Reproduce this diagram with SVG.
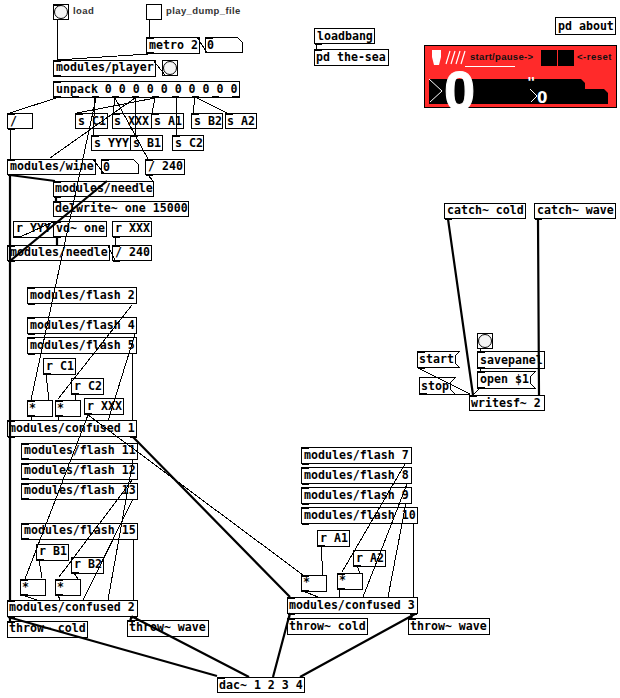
<svg xmlns="http://www.w3.org/2000/svg" width="620" height="698" viewBox="0 0 620 698">
<style>
.b{fill:#fff;stroke:#000;stroke-width:1;shape-rendering:crispEdges}
.io{fill:#000;shape-rendering:crispEdges}
.t{font-family:"DejaVu Sans Mono",monospace;font-weight:bold;font-size:11.6px;fill:#000}
.l{font-family:"Liberation Sans",sans-serif;font-weight:bold;font-size:9.5px;fill:#333;letter-spacing:.4px}
.w{fill:#fff}
.c{stroke:#000;stroke-width:1;fill:none;shape-rendering:crispEdges}
.s{stroke:#000;stroke-width:2.2;fill:none}
.wl{stroke:#fff;stroke-width:1;fill:none}
</style>
<defs>
<clipPath id="gopclip"><rect x="424" y="45" width="193" height="63"/></clipPath>
</defs>
<rect width="620" height="698" fill="#fff"/>
<g id="bang-load"><rect class="b" x="53.500" y="4.500" width="15" height="15"/><circle cx="61" cy="12" r="6.500" fill="#f4f4f4" stroke="#000"/><rect class="io" x="54" y="4" width="7" height="1.500"/><text class="l" x="73" y="14">load</text></g>
<g id="toggle-dump"><rect class="b" x="146.500" y="4.500" width="15" height="15"/><text class="l" x="166" y="14">play_dump_file</text></g>
<g id="metro"><rect class="b" x="146.500" y="37.500" width="53" height="16"/><rect class="io" x="147" y="37" width="7" height="2"/><rect class="io" x="147" y="52" width="7" height="2"/><text class="t" x="149" y="49">metro 2</text></g>
<g id="num-metro"><path class="b" d="M205.500 37.500H237.500L242.500 42.500V52.500H205.500Z"/><rect class="io" x="206" y="37" width="7" height="2"/><text class="t" x="207" y="49">0</text></g>
<g id="player"><rect class="b" x="53.500" y="60.500" width="102" height="16"/><rect class="io" x="54" y="60" width="7" height="2"/><rect class="io" x="54" y="75" width="7" height="2"/><text class="t" x="56" y="71">modules/player</text></g>
<g id="bang-player"><rect class="b" x="162.500" y="60.500" width="15" height="15"/><circle cx="170" cy="68" r="6.500" fill="#f4f4f4" stroke="#000"/></g>
<g id="unpack"><rect class="b" x="53.500" y="81.500" width="186" height="16"/><rect class="io" x="54" y="81" width="7" height="2"/><rect class="io" x="54" y="96" width="7" height="2"/><rect class="io" x="72" y="96" width="7" height="2"/><rect class="io" x="92" y="96" width="7" height="2"/><rect class="io" x="112" y="96" width="7" height="2"/><rect class="io" x="132" y="96" width="7" height="2"/><rect class="io" x="152" y="96" width="7" height="2"/><rect class="io" x="172" y="96" width="7" height="2"/><rect class="io" x="192" y="96" width="7" height="2"/><rect class="io" x="212" y="96" width="7" height="2"/><rect class="io" x="232" y="96" width="7" height="2"/><text class="t" x="56" y="93">unpack 0 0 0 0 0 0 0 0 0 0</text></g>
<g id="div"><rect class="b" x="7.500" y="113.500" width="25" height="15"/><rect class="io" x="8" y="113" width="7" height="2"/><rect class="io" x="8" y="128" width="7" height="2"/><text class="t" x="10" y="125">/</text></g>
<g id="s-c1"><rect class="b" x="75.500" y="113.500" width="32" height="15"/><rect class="io" x="76" y="113" width="7" height="2"/><text class="t" x="78" y="125">s C1</text></g>
<g id="s-xxx"><rect class="b" x="112.500" y="113.500" width="39" height="15"/><rect class="io" x="113" y="113" width="7" height="2"/><text class="t" x="114" y="125">s XXX</text></g>
<g id="s-a1"><rect class="b" x="151.500" y="113.500" width="32" height="15"/><rect class="io" x="152" y="113" width="7" height="2"/><text class="t" x="154" y="125">s A1</text></g>
<g id="s-b2"><rect class="b" x="191.500" y="113.500" width="31" height="15"/><rect class="io" x="192" y="113" width="7" height="2"/><text class="t" x="194" y="125">s B2</text></g>
<g id="s-a2"><rect class="b" x="225.500" y="113.500" width="31" height="15"/><rect class="io" x="226" y="113" width="7" height="2"/><text class="t" x="227" y="125">s A2</text></g>
<g id="s-yyy"><rect class="b" x="91.500" y="135.500" width="39" height="15"/><rect class="io" x="92" y="135" width="7" height="2"/><text class="t" x="94" y="147">s YYY</text></g>
<g id="s-b1"><rect class="b" x="130.500" y="135.500" width="32" height="15"/><rect class="io" x="131" y="135" width="7" height="2"/><text class="t" x="133" y="147">s B1</text></g>
<g id="s-c2"><rect class="b" x="172.500" y="135.500" width="31" height="15"/><rect class="io" x="173" y="135" width="7" height="2"/><text class="t" x="175" y="147">s C2</text></g>
<g id="wine"><rect class="b" x="7.500" y="159.500" width="88" height="15"/><rect class="io" x="8" y="159" width="7" height="2"/><rect class="io" x="8" y="174" width="7" height="2"/><text class="t" x="10" y="170">modules/wine</text></g>
<g id="num-wine"><path class="b" d="M101.500 159.500H133.500L138.500 164.500V173.500H101.500Z"/><rect class="io" x="102" y="159" width="7" height="2"/><text class="t" x="103" y="171">0</text></g>
<g id="div240a"><rect class="b" x="145.500" y="159.500" width="39" height="15"/><rect class="io" x="146" y="159" width="7" height="2"/><rect class="io" x="146" y="174" width="7" height="2"/><text class="t" x="148" y="170">/ 240</text></g>
<g id="needle1"><rect class="b" x="53.500" y="181.500" width="100" height="15"/><rect class="io" x="54" y="181" width="7" height="2"/><rect class="io" x="54" y="196" width="7" height="2"/><text class="t" x="55" y="192">modules/needle</text></g>
<g id="delwrite"><rect class="b" x="53.500" y="201.500" width="135" height="15"/><rect class="io" x="54" y="201" width="7" height="2"/><text class="t" x="55" y="212">delwrite~ one 15000</text></g>
<g id="r-yyy"><rect class="b" x="13.500" y="221.500" width="40" height="16"/><rect class="io" x="14" y="236" width="7" height="2"/><text class="t" x="16" y="232">r YYY</text></g>
<g id="vd"><rect class="b" x="53.500" y="221.500" width="53" height="15"/><rect class="io" x="54" y="221" width="7" height="2"/><rect class="io" x="54" y="236" width="7" height="2"/><text class="t" x="56" y="232">vd~ one</text></g>
<g id="r-xxx1"><rect class="b" x="112.500" y="221.500" width="39" height="15"/><rect class="io" x="113" y="236" width="7" height="2"/><text class="t" x="115" y="232">r XXX</text></g>
<g id="needle2"><rect class="b" x="7.500" y="245.500" width="102" height="15"/><rect class="io" x="8" y="245" width="7" height="2"/><rect class="io" x="8" y="260" width="7" height="2"/><text class="t" x="10" y="256">modules/needle</text></g>
<g id="div240b"><rect class="b" x="112.500" y="245.500" width="39" height="15"/><rect class="io" x="113" y="245" width="7" height="2"/><rect class="io" x="113" y="260" width="7" height="2"/><text class="t" x="115" y="256">/ 240</text></g>
<g id="flash2"><rect class="b" x="27.500" y="287.500" width="109" height="16"/><rect class="io" x="28" y="287" width="7" height="2"/><rect class="io" x="28" y="303" width="7" height="2"/><text class="t" x="30" y="299">modules/flash 2</text></g>
<g id="flash4"><rect class="b" x="27.500" y="317.500" width="109" height="16"/><rect class="io" x="28" y="317" width="7" height="2"/><rect class="io" x="28" y="333" width="7" height="2"/><text class="t" x="30" y="329">modules/flash 4</text></g>
<g id="flash5"><rect class="b" x="27.500" y="337.500" width="109" height="16"/><rect class="io" x="28" y="337" width="7" height="2"/><rect class="io" x="28" y="353" width="7" height="2"/><text class="t" x="30" y="349">modules/flash 5</text></g>
<g id="r-c1"><rect class="b" x="43.500" y="358.500" width="32" height="16"/><rect class="io" x="44" y="373" width="7" height="2"/><text class="t" x="46" y="370">r C1</text></g>
<g id="r-c2"><rect class="b" x="71.500" y="378.500" width="32" height="16"/><rect class="io" x="72" y="393" width="7" height="2"/><text class="t" x="74" y="390">r C2</text></g>
<g id="mul1"><rect class="b" x="27.500" y="400.500" width="25" height="16"/><rect class="io" x="28" y="400" width="7" height="2"/><rect class="io" x="28" y="415" width="7" height="2"/><text class="t" x="29" y="412">*</text></g>
<g id="mul2"><rect class="b" x="55.500" y="400.500" width="25" height="16"/><rect class="io" x="56" y="400" width="7" height="2"/><rect class="io" x="56" y="415" width="7" height="2"/><text class="t" x="57" y="412">*</text></g>
<g id="r-xxx2"><rect class="b" x="84.500" y="398.500" width="39" height="16"/><rect class="io" x="85" y="413" width="7" height="2"/><text class="t" x="87" y="410">r XXX</text></g>
<g id="confused1"><rect class="b" x="7.500" y="420.500" width="129" height="16"/><rect class="io" x="8" y="420" width="7" height="2"/><rect class="io" x="8" y="436" width="7" height="2"/><rect class="io" x="130" y="436" width="7" height="2"/><text class="t" x="9" y="432">modules/confused 1</text></g>
<g id="flash11"><rect class="b" x="21.500" y="443.500" width="116" height="16"/><rect class="io" x="22" y="443" width="7" height="2"/><rect class="io" x="22" y="458" width="7" height="2"/><text class="t" x="24" y="454">modules/flash 11</text></g>
<g id="flash12"><rect class="b" x="21.500" y="463.500" width="116" height="16"/><rect class="io" x="22" y="463" width="7" height="2"/><rect class="io" x="22" y="478" width="7" height="2"/><text class="t" x="24" y="474">modules/flash 12</text></g>
<g id="flash13"><rect class="b" x="21.500" y="483.500" width="116" height="16"/><rect class="io" x="22" y="483" width="7" height="2"/><rect class="io" x="22" y="498" width="7" height="2"/><text class="t" x="24" y="494">modules/flash 13</text></g>
<g id="flash15"><rect class="b" x="21.500" y="523.500" width="116" height="16"/><rect class="io" x="22" y="523" width="7" height="2"/><rect class="io" x="22" y="538" width="7" height="2"/><text class="t" x="24" y="534">modules/flash 15</text></g>
<g id="r-b1"><rect class="b" x="36.500" y="544.500" width="32" height="16"/><rect class="io" x="37" y="559" width="7" height="2"/><text class="t" x="39" y="555">r B1</text></g>
<g id="r-b2"><rect class="b" x="71.500" y="557.500" width="32" height="16"/><rect class="io" x="72" y="572" width="7" height="2"/><text class="t" x="74" y="568">r B2</text></g>
<g id="mul3"><rect class="b" x="20.500" y="579.500" width="25" height="16"/><rect class="io" x="21" y="579" width="7" height="2"/><rect class="io" x="21" y="594" width="7" height="2"/><text class="t" x="22" y="591">*</text></g>
<g id="mul4"><rect class="b" x="55.500" y="579.500" width="25" height="16"/><rect class="io" x="56" y="579" width="7" height="2"/><rect class="io" x="56" y="594" width="7" height="2"/><text class="t" x="57" y="591">*</text></g>
<g id="confused2"><rect class="b" x="7.500" y="600.500" width="130" height="16"/><rect class="io" x="8" y="600" width="7" height="2"/><rect class="io" x="8" y="616" width="7" height="2"/><rect class="io" x="130" y="616" width="7" height="2"/><text class="t" x="9" y="611">modules/confused 2</text></g>
<g id="throw-cold1"><rect class="b" x="7.500" y="621.500" width="80" height="16"/><rect class="io" x="8" y="621" width="7" height="2"/><text class="t" x="9" y="632">throw~ cold</text></g>
<g id="throw-wave1"><rect class="b" x="127.500" y="620.500" width="81" height="16"/><rect class="io" x="128" y="620" width="7" height="2"/><text class="t" x="129" y="631">throw~ wave</text></g>
<g id="flash7"><rect class="b" x="301.500" y="447.500" width="110" height="16"/><rect class="io" x="302" y="447" width="7" height="2"/><rect class="io" x="302" y="463" width="7" height="2"/><text class="t" x="304" y="459">modules/flash 7</text></g>
<g id="flash8"><rect class="b" x="301.500" y="467.500" width="110" height="16"/><rect class="io" x="302" y="467" width="7" height="2"/><rect class="io" x="302" y="483" width="7" height="2"/><text class="t" x="304" y="479">modules/flash 8</text></g>
<g id="flash9"><rect class="b" x="301.500" y="487.500" width="110" height="16"/><rect class="io" x="302" y="487" width="7" height="2"/><rect class="io" x="302" y="503" width="7" height="2"/><text class="t" x="304" y="499">modules/flash 9</text></g>
<g id="flash10"><rect class="b" x="301.500" y="507.500" width="116" height="16"/><rect class="io" x="302" y="507" width="7" height="2"/><rect class="io" x="302" y="523" width="7" height="2"/><text class="t" x="304" y="519">modules/flash 10</text></g>
<g id="r-a1"><rect class="b" x="317.500" y="530.500" width="32" height="16"/><rect class="io" x="318" y="545" width="7" height="2"/><text class="t" x="320" y="542">r A1</text></g>
<g id="r-a2"><rect class="b" x="353.500" y="550.500" width="32" height="16"/><rect class="io" x="354" y="565" width="7" height="2"/><text class="t" x="356" y="562">r A2</text></g>
<g id="mul5"><rect class="b" x="301.500" y="575.500" width="25" height="16"/><rect class="io" x="302" y="575" width="7" height="2"/><rect class="io" x="302" y="590" width="7" height="2"/><text class="t" x="303" y="586">*</text></g>
<g id="mul6"><rect class="b" x="337.500" y="573.500" width="25" height="16"/><rect class="io" x="338" y="573" width="7" height="2"/><rect class="io" x="338" y="588" width="7" height="2"/><text class="t" x="339" y="584">*</text></g>
<g id="confused3"><rect class="b" x="287.500" y="597.500" width="130" height="16"/><rect class="io" x="288" y="597" width="7" height="2"/><rect class="io" x="288" y="613" width="7" height="2"/><rect class="io" x="410" y="613" width="7" height="2"/><text class="t" x="289" y="609">modules/confused 3</text></g>
<g id="throw-cold2"><rect class="b" x="287.500" y="618.500" width="80" height="16"/><rect class="io" x="288" y="618" width="7" height="2"/><text class="t" x="289" y="630">throw~ cold</text></g>
<g id="throw-wave2"><rect class="b" x="408.500" y="618.500" width="81" height="16"/><rect class="io" x="409" y="618" width="7" height="2"/><text class="t" x="410" y="630">throw~ wave</text></g>
<g id="dac"><rect class="b" x="217.500" y="677.500" width="87" height="15"/><rect class="io" x="218" y="677" width="7" height="2"/><text class="t" x="219" y="689">dac~ 1 2 3 4</text></g>
<g id="pd-about"><rect class="b" x="555.500" y="17.500" width="60" height="17"/><text class="t" x="558" y="30">pd about</text></g>
<g id="loadbang"><rect class="b" x="314.500" y="28.500" width="60" height="15"/><rect class="io" x="315" y="43" width="7" height="2"/><text class="t" x="317" y="40">loadbang</text></g>
<g id="pd-sea"><rect class="b" x="314.500" y="49.500" width="74" height="16"/><rect class="io" x="315" y="49" width="7" height="2"/><text class="t" x="316" y="61">pd the-sea</text></g>
<g id="gop">
<rect x="424.500" y="45.500" width="192" height="62" fill="#ff2a2a" stroke="#000" shape-rendering="crispEdges"/>
<path d="M429 79H581L585 83V89H604L608 93V104H429Z" fill="#000"/>
<path d="M432 50H441V57L439 65H434L432 57Z" fill="#fff"/>
<path d="M446 64L450 51M451 64L455 51M456 64L460 51M461 64L465 51" stroke="#fff" stroke-width="1.200" fill="none"/>
<path d="M465 66.500H515" class="wl"/>
<text x="470" y="60" font-family="Liberation Sans,sans-serif" font-weight="bold" font-size="9.500" fill="#111" letter-spacing=".3">start/pause-&gt;</text>
<rect x="541" y="50" width="16" height="16" fill="#000"/><rect x="558" y="50" width="16" height="16" fill="#000"/>
<text x="577" y="60" font-family="Liberation Sans,sans-serif" font-weight="bold" font-size="9.500" fill="#111" letter-spacing=".5">&lt;-reset</text>
<path d="M429 79L442 91L430 102" class="wl"/>
<path d="M530 89L537 96L531 102" class="wl"/>
<g clip-path="url(#gopclip)"><text x="444" y="110" font-family="Liberation Sans,sans-serif" font-weight="bold" font-size="56" stroke="#fff" stroke-width="1" class="w">0</text></g>
<text x="527" y="87" font-family="DejaVu Sans Mono,monospace" font-weight="bold" font-size="14" class="w">"</text>
<text x="537" y="103" font-family="DejaVu Sans,sans-serif" font-weight="bold" font-size="15" class="w">0</text>
</g>
<g id="catch-cold"><rect class="b" x="444.500" y="203.500" width="81" height="15"/><rect class="io" x="445" y="218" width="7" height="2"/><text class="t" x="447" y="214">catch~ cold</text></g>
<g id="catch-wave"><rect class="b" x="534.500" y="203.500" width="81" height="15"/><rect class="io" x="535" y="218" width="7" height="2"/><text class="t" x="537" y="214">catch~ wave</text></g>
<g id="bang-save"><rect class="b" x="477.500" y="333.500" width="15" height="15"/><circle cx="485" cy="341" r="6.500" fill="#f4f4f4" stroke="#000"/></g>
<g id="msg-start"><path class="b" d="M417.500 351.500H459.500L455.500 355.500V363.500L459.500 367.500H417.500Z"/><rect class="io" x="418" y="351" width="7" height="2"/><rect class="io" x="418" y="367" width="7" height="2"/><text class="t" x="419" y="363">start</text></g>
<g id="savepanel"><rect class="b" x="477.500" y="351.500" width="67" height="17"/><rect class="io" x="478" y="351" width="7" height="2"/><rect class="io" x="478" y="367" width="7" height="2"/><text class="t" x="480" y="364">savepanel</text></g>
<g id="msg-open"><path class="b" d="M477.500 371.500H535.500L530.500 376.500V383.500L535.500 388.500H477.500Z"/><rect class="io" x="478" y="371" width="7" height="2"/><rect class="io" x="478" y="387" width="7" height="2"/><text class="t" x="480" y="383">open $1</text></g>
<g id="msg-stop"><path class="b" d="M419.500 377.500H455.500L450.500 382.500V389.500L455.500 394.500H419.500Z"/><rect class="io" x="420" y="393" width="7" height="2"/><text class="t" x="421" y="390">stop</text></g>
<g id="writesf"><rect class="b" x="469.500" y="395.500" width="75" height="15"/><rect class="io" x="470" y="395" width="7" height="2"/><text class="t" x="471" y="407">writesf~ 2</text></g>
<g id="connectors">
<path class="c" d="M57 19V60M149 19V37M148 54L57 60M197 37L207 53M153 60L165 75M56 98L10 113M96 98L31 400M95 98L93 135M155 98L77 113M115 98L113 113M115 98L148 159M135 98L50 158M135 98V135M155 98L152 113M176 98V135M195 98L193 113M197 98L227 113M10 129V159M93 159L104 174M148 175L153 181M20 237L53 222M115 237V245M108 246L115 260M316 44V49M132 305L58 399M135 334L108 421M132.500 354V420M46 375L49 400M75 395L76 400M31 417L32 420M58 417V420M88 415L25 579M88 415L303 575M133 460L108 600M133 479L59 577M133 499L83 600M133 539V600M39 560L42 578M74 573L78 579M22 595L37 600M58 595L60 600M303 591L318 597M340 589L339 597M405 464L342 572M407 484L363 597M406 503L388 597M413 524V597M321 547L323 575M357 566L360 573M480 349V351M480 368V371M480 388L473 395M418 368L470 394M421 394L470 395"/>
<path class="s" d="M10 175V600M10 175L55 181M56 197V201M107 181L10 261M57 237V245M133 437L290 597M10 616V621M133 616L130 620M8 617L217 676M133 617L249 677M290 613L273 677M290 613L289 618M415 614L300 677M413 614L411 618M448 219L473 395M538 219L539 395"/>
</g>
</svg>
